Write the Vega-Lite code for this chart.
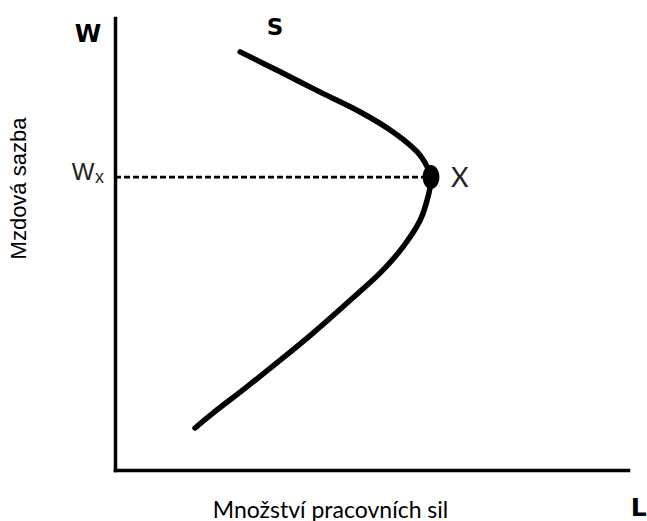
{
  "$schema": "https://vega.github.io/schema/vega-lite/v6.json",
  "autosize": {"type": "none"},
  "padding": {"left": 115, "top": 18, "right": 19, "bottom": 51},
  "width": 513,
  "height": 452,
  "background": "white",
  "config": {
    "view": {"stroke": null},
    "axis": {
      "domainColor": "black",
      "domainWidth": 3.5,
      "domainCap": "square",
      "ticks": false,
      "labels": false,
      "grid": false,
      "titleColor": "black",
      "titleFontWeight": "normal"
    }
  },
  "datasets": {
    "curve": [
      {"i": 1, "x": 24.4, "y": 92.5},
      {"i": 2, "x": 32.2, "y": 88.1},
      {"i": 3, "x": 40.0, "y": 83.6},
      {"i": 4, "x": 47.8, "y": 79.2},
      {"i": 5, "x": 54.2, "y": 74.8},
      {"i": 6, "x": 58.9, "y": 70.4},
      {"i": 7, "x": 61.0, "y": 66.8},
      {"i": 8, "x": 61.6, "y": 64.8},
      {"i": 9, "x": 61.2, "y": 61.3},
      {"i": 10, "x": 59.5, "y": 55.3},
      {"i": 11, "x": 56.1, "y": 49.3},
      {"i": 12, "x": 51.7, "y": 43.6},
      {"i": 13, "x": 45.2, "y": 36.9},
      {"i": 14, "x": 38.6, "y": 30.3},
      {"i": 15, "x": 32.2, "y": 24.3},
      {"i": 16, "x": 25.7, "y": 18.4},
      {"i": 17, "x": 19.1, "y": 12.6},
      {"i": 18, "x": 15.6, "y": 9.3}
    ],
    "point": [{"x": 61.6, "y": 64.8, "x0": 0}],
    "bold": [
      {"label": "W", "x": -5.26, "y": 94.7, "size": 24},
      {"label": "S", "x": 31.2, "y": 96.2, "size": 23},
      {"label": "L", "x": 102.1, "y": -10.2, "size": 25}
    ],
    "wx": [
      {"label": "W", "x": -6.24, "y": 64.16, "size": 24},
      {"label": "x", "x": -3.0, "y": 63.5, "size": 18}
    ],
    "xl": [{"label": "X", "x": 67.2, "y": 62.6}]
  },
  "layer": [
    {
      "data": {"name": "point"},
      "mark": {"type": "rule", "color": "black", "strokeWidth": 2.8, "strokeDash": [6, 3]},
      "encoding": {
        "x": {
          "field": "x0", "type": "quantitative",
          "scale": {"domain": [0, 100], "nice": false, "zero": false},
          "axis": {
            "title": "Množství pracovních sil",
            "titleFont": "Lato", "titleFontSize": 23,
            "titleX": 215, "titleY": 47, "titleAlign": "center", "titleBaseline": "alphabetic"
          }
        },
        "x2": {"field": "x"},
        "y": {
          "field": "y", "type": "quantitative",
          "scale": {"domain": [0, 100], "nice": false, "zero": false},
          "axis": {
            "title": "Mzdová sazba",
            "titleFont": "Liberation Sans", "titleFontSize": 22,
            "titleX": -90, "titleY": 170, "titleAlign": "center", "titleBaseline": "alphabetic", "titleAngle": -90
          }
        }
      }
    },
    {
      "data": {"name": "curve"},
      "mark": {"type": "line", "color": "black", "strokeWidth": 5.5, "strokeCap": "round", "interpolate": "cardinal"},
      "encoding": {
        "x": {"field": "x", "type": "quantitative"},
        "y": {"field": "y", "type": "quantitative"},
        "order": {"field": "i", "type": "quantitative"}
      }
    },
    {
      "data": {"name": "point"},
      "mark": {
        "type": "point", "filled": true, "color": "black", "opacity": 1, "size": 576,
        "shape": "M0,-1 A0.7,1 0 1,1 0,1 A0.7,1 0 1,1 0,-1 Z"
      },
      "encoding": {
        "x": {"field": "x", "type": "quantitative"},
        "y": {"field": "y", "type": "quantitative"}
      }
    },
    {
      "data": {"name": "bold"},
      "mark": {"type": "text", "font": "DejaVu Sans", "fontWeight": "bold", "color": "black", "align": "center", "baseline": "alphabetic"},
      "encoding": {
        "x": {"field": "x", "type": "quantitative"},
        "y": {"field": "y", "type": "quantitative"},
        "text": {"field": "label"},
        "size": {"field": "size", "type": "quantitative", "scale": null}
      }
    },
    {
      "data": {"name": "wx"},
      "mark": {"type": "text", "font": "Liberation Sans", "color": "#222222", "align": "center", "baseline": "alphabetic"},
      "encoding": {
        "x": {"field": "x", "type": "quantitative"},
        "y": {"field": "y", "type": "quantitative"},
        "text": {"field": "label"},
        "size": {"field": "size", "type": "quantitative", "scale": null}
      }
    },
    {
      "data": {"name": "xl"},
      "mark": {"type": "text", "font": "Lato", "fontSize": 27, "color": "#222222", "align": "center", "baseline": "alphabetic"},
      "encoding": {
        "x": {"field": "x", "type": "quantitative"},
        "y": {"field": "y", "type": "quantitative"},
        "text": {"field": "label"}
      }
    }
  ]
}
